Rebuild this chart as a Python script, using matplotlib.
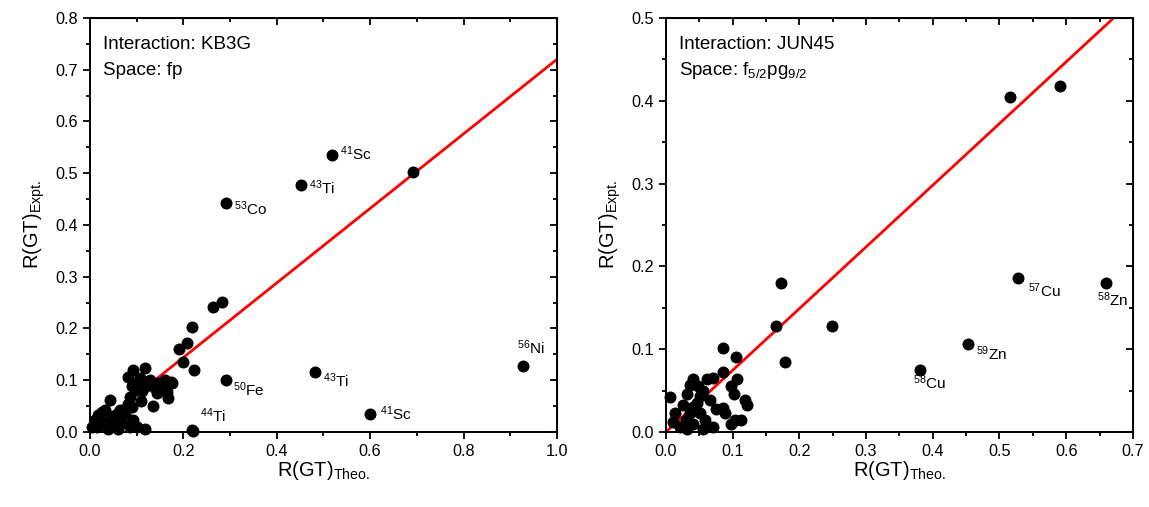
import matplotlib
matplotlib.use("Agg")
import matplotlib.pyplot as plt
import numpy as np
from matplotlib.ticker import MultipleLocator

plt.rcParams["font.family"] = ["Liberation Sans", "DejaVu Sans"]
plt.rcParams["mathtext.fontset"] = "custom"
plt.rcParams["mathtext.rm"] = "Liberation Sans"
plt.rcParams["mathtext.it"] = "Liberation Sans:italic"
plt.rcParams["mathtext.bf"] = "Liberation Sans:bold"

# ---- KB3G / fp : unlabeled points
kb_x = [0.004, 0.011, 0.014, 0.018, 0.025, 0.032, 0.032, 0.039, 0.043, 0.046,
        0.054, 0.061, 0.061, 0.064, 0.068, 0.082, 0.082, 0.086, 0.086, 0.089,
        0.089, 0.093, 0.093, 0.100, 0.100, 0.107, 0.118, 0.118, 0.121, 0.128,
        0.136, 0.143, 0.146, 0.157, 0.161, 0.164, 0.168, 0.169, 0.173, 0.175,
        0.190, 0.200, 0.208, 0.218, 0.223, 0.263, 0.283, 0.219, 0.692, 0.050,
        0.075, 0.110, 0.098, 0.112, 0.140]
kb_y = [0.010, 0.023, 0.010, 0.033, 0.039, 0.043, 0.017, 0.005, 0.062, 0.023,
        0.010, 0.036, 0.005, 0.043, 0.017, 0.107, 0.055, 0.068, 0.010, 0.088,
        0.049, 0.120, 0.023, 0.081, 0.010, 0.104, 0.123, 0.005, 0.088, 0.100,
        0.051, 0.075, 0.094, 0.088, 0.100, 0.078, 0.065, 0.094, 0.097, 0.095,
        0.160, 0.135, 0.172, 0.203, 0.120, 0.242, 0.251, 0.003, 0.502, 0.030,
        0.035, 0.060, 0.095, 0.080, 0.085]
# labeled points
kb_lab_x = [0.518, 0.452, 0.291, 0.927, 0.482, 0.600, 0.291, 0.220]
kb_lab_y = [0.535, 0.477, 0.443, 0.128, 0.116, 0.035, 0.101, 0.002]
kb_lab = [r"$^{41}$Sc", r"$^{43}$Ti", r"$^{53}$Co", r"$^{56}$Ni",
          r"$^{43}$Ti", r"$^{41}$Sc", r"$^{50}$Fe", r"$^{44}$Ti"]
kb_slope = 0.72

# ---- JUN45 / f5/2pg9/2 : unlabeled points
jun_x = [0.006, 0.011, 0.013, 0.021, 0.026, 0.031, 0.032, 0.036, 0.036, 0.041,
         0.041, 0.041, 0.046, 0.051, 0.051, 0.056, 0.056, 0.058, 0.061, 0.066,
         0.070, 0.071, 0.085, 0.085, 0.086, 0.088, 0.098, 0.098, 0.102, 0.103,
         0.105, 0.106, 0.113, 0.118, 0.122, 0.165, 0.172, 0.179, 0.249, 0.516,
         0.591, 0.030, 0.048, 0.075]
jun_y = [0.042, 0.012, 0.023, 0.006, 0.033, 0.046, 0.004, 0.057, 0.023, 0.064,
         0.010, 0.030, 0.035, 0.023, 0.043, 0.049, 0.004, 0.015, 0.064, 0.038,
         0.065, 0.006, 0.101, 0.029, 0.072, 0.023, 0.056, 0.010, 0.046, 0.015,
         0.090, 0.064, 0.015, 0.038, 0.033, 0.128, 0.180, 0.084, 0.128, 0.404,
         0.418, 0.015, 0.055, 0.028]
jun_lab_x = [0.528, 0.660, 0.453, 0.381]
jun_lab_y = [0.186, 0.180, 0.106, 0.075]
jun_lab = [r"$^{57}$Cu", r"$^{58}$Zn", r"$^{59}$Zn", r"$^{58}$Cu"]
jun_slope = 0.745

# label offsets in points (layout only)
kb_off = [(6, 1), (6, -2), (6, -4), (-4, 13), (6, -6), (7, 0), (5, -7), (5, 11)]
jun_off = [(7, -9), (-7, -12), (6, -7), (-5, -9)]

fig = plt.figure(figsize=(11.49, 5.07), dpi=100)
ax1 = fig.add_axes([0.0783, 0.148, 0.4064, 0.8166])
ax2 = fig.add_axes([0.5796, 0.148, 0.4064, 0.8166])


def style(ax, xmax, ymax, xmaj, ymaj):
    ax.set_xlim(0, xmax)
    ax.set_ylim(0, ymax)
    ax.xaxis.set_major_locator(MultipleLocator(xmaj))
    ax.xaxis.set_minor_locator(MultipleLocator(xmaj / 2))
    ax.yaxis.set_major_locator(MultipleLocator(ymaj))
    ax.yaxis.set_minor_locator(MultipleLocator(ymaj / 2))
    ax.tick_params(which="both", direction="out", width=1.3, labelsize=11.7)
    ax.tick_params(which="major", length=5)
    ax.tick_params(which="minor", length=3)
    for s in ax.spines.values():
        s.set_linewidth(1.4)
    # mirrored ticks on top / right, pointing inward
    top = ax.secondary_xaxis("top")
    top.xaxis.set_major_locator(MultipleLocator(xmaj))
    top.xaxis.set_minor_locator(MultipleLocator(xmaj / 2))
    top.tick_params(which="both", direction="in", width=1.3, labeltop=False)
    top.tick_params(which="major", length=5)
    top.tick_params(which="minor", length=3)
    right = ax.secondary_yaxis("right")
    right.yaxis.set_major_locator(MultipleLocator(ymaj))
    right.yaxis.set_minor_locator(MultipleLocator(ymaj / 2))
    right.tick_params(which="both", direction="in", width=1.3, labelright=False)
    right.tick_params(which="major", length=5)
    right.tick_params(which="minor", length=3)
    ax.set_xlabel(r"R(GT)$_{\rm Theo.}$", fontsize=14.5, labelpad=0)
    ax.set_ylabel(r"R(GT)$_{\rm Expt.}$", fontsize=14.5, labelpad=6)


def panel(ax, x, y, lx, ly, labels, offs, slope, xmax):
    xs = np.array([0, xmax])
    ax.plot(xs, slope * xs, color="red", lw=2.0, zorder=2)
    ax.scatter(x + lx, y + ly, s=58, color="black", zorder=3, clip_on=False)
    for px, py, t, o in zip(lx, ly, labels, offs):
        ax.annotate(t, (px, py), xytext=o, textcoords="offset points",
                    ha="left", va="center", fontsize=11)


panel(ax1, kb_x, kb_y, kb_lab_x, kb_lab_y, kb_lab, kb_off, kb_slope, 1.0)
style(ax1, 1.0, 0.8, 0.2, 0.1)
ax1.text(0.028, 0.937, "Interaction: KB3G", transform=ax1.transAxes,
         fontsize=13.5, va="center")
ax1.text(0.028, 0.874, "Space: fp", transform=ax1.transAxes,
         fontsize=13.5, va="center")

panel(ax2, jun_x, jun_y, jun_lab_x, jun_lab_y, jun_lab, jun_off, jun_slope, 0.7)
style(ax2, 0.7, 0.5, 0.1, 0.1)
ax2.text(0.028, 0.937, "Interaction: JUN45", transform=ax2.transAxes,
         fontsize=13.5, va="center")
ax2.text(0.028, 0.874, r"Space: f$_{5/2}$pg$_{9/2}$", transform=ax2.transAxes,
         fontsize=13.5, va="center")

fig.savefig("out.png", dpi=100)
